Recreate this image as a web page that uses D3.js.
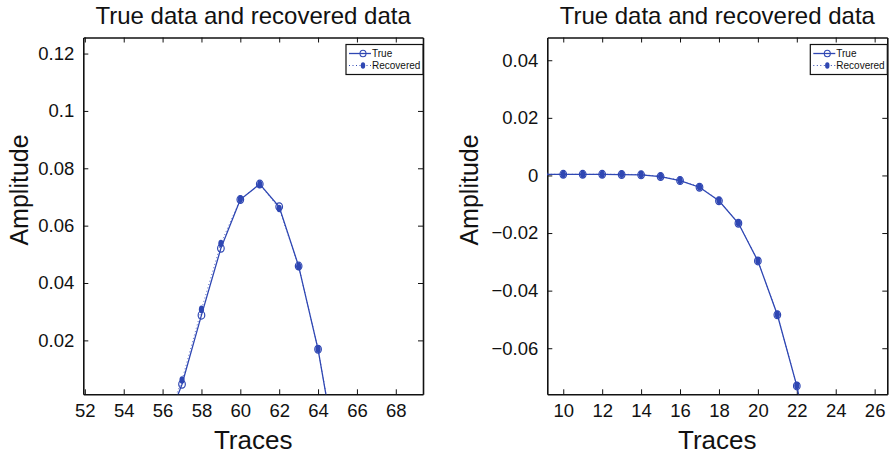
<!DOCTYPE html>
<html>
<head>
<meta charset="utf-8">
<script src="https://cdn.jsdelivr.net/npm/d3@7"></script>
<style>
  body { margin: 0; background: #fff; }
  svg { font-family: "Liberation Sans", Arial, Helvetica, sans-serif; }
  .axis path, .axis line { stroke: #111; }
  .axis text { fill: #111; font-size: 18.5px; }
</style>
</head>
<body>
<div id="chart"></div>
<script>
// left panel: trace 52..69
const tracesA = [55, 56, 57, 58, 59, 60, 61, 62, 63, 64, 65, 66];
const trueA = [-0.02, -0.0128, 0.0047, 0.0288, 0.0521, 0.0691, 0.0745, 0.0666, 0.0459, 0.0169, -0.022, -0.04];
const recA = [-0.019, -0.0115, 0.0062, 0.0308, 0.0538, 0.0692, 0.0744, 0.0660, 0.0458, 0.0170, -0.0215, -0.039];
const xTicksA = [52, 54, 56, 58, 60, 62, 64, 66, 68];
const yTicksA = [0.02, 0.04, 0.06, 0.08, 0.1, 0.12];

// right panel: trace 9..23
const tracesB = [9, 10, 11, 12, 13, 14, 15, 16, 17, 18, 19, 20, 21, 22, 23];
const trueB = [0.0004, 0.0004, 0.0004, 0.0004, 0.0003, 0.0002, -0.0004, -0.0018, -0.0041, -0.0088, -0.0166, -0.0297, -0.0484, -0.0731, -0.105];
const recB = [0.0004, 0.0004, 0.0004, 0.0004, 0.0004, 0.0003, -0.0003, -0.0017, -0.0040, -0.0087, -0.0165, -0.0296, -0.0483, -0.0730, -0.105];
const xTicksB = [10, 12, 14, 16, 18, 20, 22, 24, 26];
const yTicksB = [-0.06, -0.04, -0.02, 0, 0.02, 0.04];

const W = 893, H = 455;
const blue = '#2f47b3';
const svg = d3.select('#chart').append('svg').attr('width', W).attr('height', H);

function panel(o) {
  const x = d3.scaleLinear().domain(o.xd).range([o.left, o.right]);
  const y = d3.scaleLinear().domain(o.yd).range([o.bottom, o.top]);
  const g = svg.append('g');
  const fmt = d3.format('~g');

  g.append('defs').append('clipPath').attr('id', o.id)
    .append('rect').attr('x', o.left).attr('y', o.top)
    .attr('width', o.right - o.left).attr('height', o.bottom - o.top);

  // box + ticks
  g.append('g').attr('class', 'axis')
    .attr('transform', `translate(0,${o.bottom})`)
    .call(d3.axisBottom(x).tickValues(o.xt).tickSizeInner(-5).tickSizeOuter(0).tickPadding(10).tickFormat(fmt));
  g.append('g').attr('class', 'axis')
    .attr('transform', `translate(${o.left},0)`)
    .call(d3.axisLeft(y).tickValues(o.yt).tickSizeInner(-5).tickSizeOuter(0).tickPadding(9).tickFormat(fmt));
  g.append('g').attr('class', 'axis')
    .attr('transform', `translate(0,${o.top})`)
    .call(d3.axisTop(x).tickValues(o.xt).tickSizeInner(-5).tickSizeOuter(0).tickFormat(''));
  g.append('g').attr('class', 'axis')
    .attr('transform', `translate(${o.right},0)`)
    .call(d3.axisRight(y).tickValues(o.yt).tickSizeInner(-5).tickSizeOuter(0).tickFormat(''));
  g.selectAll('.axis path').attr('stroke-width', 1.6);

  const plot = g.append('g').attr('clip-path', `url(#${o.id})`);
  const line = d3.line().x(d => x(d[0])).y(d => y(d[1]));
  const tData = o.xs.map((v, i) => [v, o.tv[i]]);
  const rData = o.xs.map((v, i) => [v, o.rv[i]]);

  plot.append('path').datum(rData).attr('d', line)
    .attr('fill', 'none').attr('stroke', blue).attr('stroke-width', 1)
    .attr('stroke-dasharray', '1,2.5').attr('opacity', 0.8);
  plot.append('path').datum(tData).attr('d', line)
    .attr('fill', 'none').attr('stroke', blue).attr('stroke-width', 1.3);
  plot.selectAll('.rec').data(rData).enter().append('ellipse')
    .attr('cx', d => x(d[0])).attr('cy', d => y(d[1]))
    .attr('rx', 2.6).attr('ry', 3.8).attr('fill', blue);
  plot.selectAll('.tru').data(tData).enter().append('ellipse')
    .attr('cx', d => x(d[0])).attr('cy', d => y(d[1]))
    .attr('rx', 3.3).attr('ry', 3.9).attr('fill', 'none')
    .attr('stroke', blue).attr('stroke-width', 1.2);

  // title and labels
  const cx = (o.left + o.right) / 2;
  g.append('text').attr('x', cx).attr('y', 24).attr('text-anchor', 'middle')
    .attr('font-size', 24).attr('fill', '#111').text('True data and recovered data');
  g.append('text').attr('x', cx).attr('y', 449).attr('text-anchor', 'middle')
    .attr('font-size', 26).attr('fill', '#111').text('Traces');
  g.append('text').attr('transform', `translate(${o.left - o.ylabOff},190) rotate(-90)`)
    .attr('text-anchor', 'middle').attr('font-size', 25).attr('fill', '#111').text('Amplitude');

  // legend
  const lw = 77, lh = 30;
  const lx = o.right - lw, ly = o.top + 7;
  const lg = g.append('g');
  lg.append('rect').attr('x', lx).attr('y', ly).attr('width', lw).attr('height', lh)
    .attr('fill', '#fff').attr('stroke', '#111').attr('stroke-width', 1.2);
  const rows = [
    {name: 'True', dash: null, filled: false},
    {name: 'Recovered', dash: '1,2.5', filled: true}
  ];
  rows.forEach((r, i) => {
    const ry = ly + 9 + i * 12;
    lg.append('line').attr('x1', lx + 3).attr('x2', lx + 25).attr('y1', ry).attr('y2', ry)
      .attr('stroke', blue).attr('stroke-width', r.dash ? 1 : 1.3)
      .attr('stroke-dasharray', r.dash);
    lg.append('ellipse').attr('cx', lx + 17).attr('cy', ry)
      .attr('rx', r.filled ? 2.2 : 3).attr('ry', r.filled ? 3.3 : 3.3)
      .attr('fill', r.filled ? blue : 'none').attr('stroke', blue).attr('stroke-width', r.filled ? 0 : 1.1);
    lg.append('text').attr('x', lx + 26).attr('y', ry + 3.5)
      .attr('font-size', 10).attr('fill', '#111').text(r.name);
  });
}

panel({id: 'clipA', left: 83.3, right: 423, top: 37.5, bottom: 394.3,
  xd: [51.92, 69.4], yd: [0.0012, 0.1256], ylabOff: 55,
  xt: xTicksA, yt: yTicksA, xs: tracesA, tv: trueA, rv: recA});
panel({id: 'clipB', left: 547.3, right: 887.3, top: 37.5, bottom: 394.3,
  xd: [9.18, 26.65], yd: [-0.0760, 0.0479], ylabOff: 69,
  xt: xTicksB, yt: yTicksB, xs: tracesB, tv: trueB, rv: recB});
</script>
</body>
</html>
